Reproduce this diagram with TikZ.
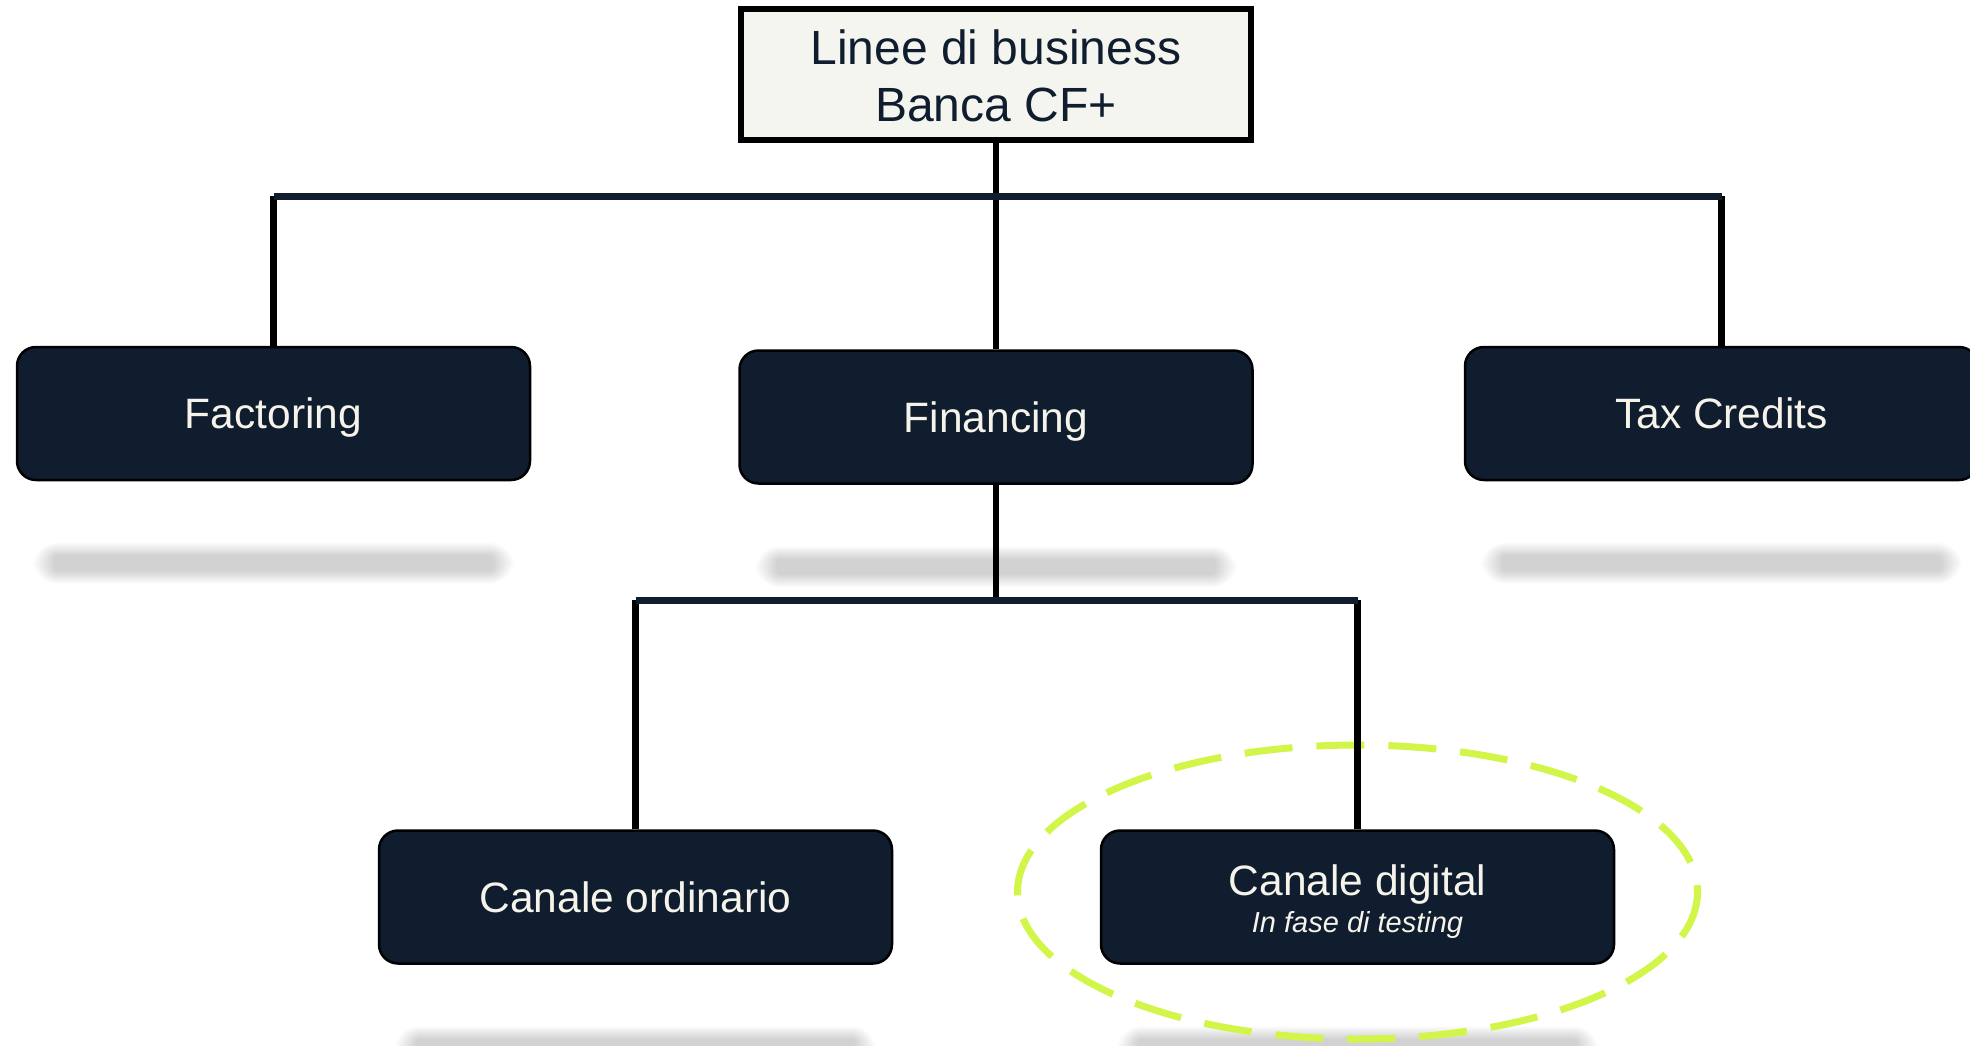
\documentclass[tikz,border=0pt]{standalone}
\usepackage{fontspec}
\setmainfont{Liberation Sans}
\usetikzlibrary{calc,backgrounds}
\definecolor{navy}{HTML}{0F1D2F}
\definecolor{cream}{HTML}{F5F5EF}
\definecolor{offwhite}{HTML}{F5F3EA}
\definecolor{limeg}{HTML}{D2F54A}
\begin{document}
\begin{tikzpicture}[x=1pt,y=-1pt,
  bizbox/.style={draw=black, line width=2.5pt, fill=navy, rounded corners=19pt,
    minimum width=513pt, minimum height=133pt, text=offwhite,
    font=\fontsize{42.5}{50}\selectfont, inner sep=0pt, align=center},
  bizone/.style={bizbox, text depth=0pt},
  topbox/.style={draw=black, line width=6pt, fill=cream, minimum width=510pt,
    minimum height=131pt, text=navy, font=\fontsize{48}{57}\selectfont,
    align=center, inner sep=0pt, text height=99pt, text depth=4pt},
  vline/.style={draw=black, line width=6.5pt},
  hline/.style={draw=navy, line width=7pt},
  shadowlayer/.style={fill=black, opacity=0.012},
  ringstyle/.style={draw=limeg, line width=7pt, dash pattern=on 48pt off 24pt},
]
\useasboundingbox (0,0) rectangle (1970,1045);
\clip (0,0) rectangle (1970,1045);

% nodes
\node[topbox] (top) at (996,74) {Linee di business\\Banca CF+};
\node[bizone] (fact) at (273.5,413.5) {Factoring};
\node[bizone] (fin) at (996,417) {Financing};
\node[bizone] (tax) at (1721.5,413.5) {Tax Credits};
\node[bizone] (ord) at (635.5,897) {Canale ordinario};
\node[bizbox, text height=76pt, text depth=6pt] (dig) at (1357.5,897) {Canale digital\\[-13pt]{\fontsize{29}{34}\selectfont\itshape In fase di testing}};

\begin{pgfonlayer}{background}
% soft shadows below the boxes
\foreach \n in {fact,fin,tax,ord,dig}{
  \foreach \e [evaluate=\e as \v using 0.6*\e, evaluate=\e as \r using \e+4] in {0,1.5,...,21}{
    \fill[shadowlayer, rounded corners=\r pt] ($(\n.south west)+({38-\e},{74-\v})$) rectangle ($(\n.south east)+({-38+\e},{90+\v})$);
  }
}

% highlight ring
\draw[ringstyle] ($(dig.center)+(0,-5)$) ellipse [x radius=340, y radius=147];

% connectors
\coordinate (jT) at (996,196);
\coordinate (hL) at (fact.north |- jT);
\coordinate (hR) at (tax.north |- jT);
\coordinate (sJ) at (996,600);
\coordinate (sL) at (ord.north |- sJ);
\coordinate (sR) at (dig.north |- sJ);
\draw[vline] (top.south) -- (fin.north);
\draw[vline] (hL) -- (fact.north);
\draw[vline] (hR) -- (tax.north);
\draw[hline] (hL) -- (hR);
\draw[vline] (fin.south) -- (sJ);
\draw[vline] (sL) -- (ord.north);
\draw[vline] (sR) -- (dig.north);
\draw[hline] (sL) -- (sR);
\end{pgfonlayer}
\end{tikzpicture}
\end{document}
